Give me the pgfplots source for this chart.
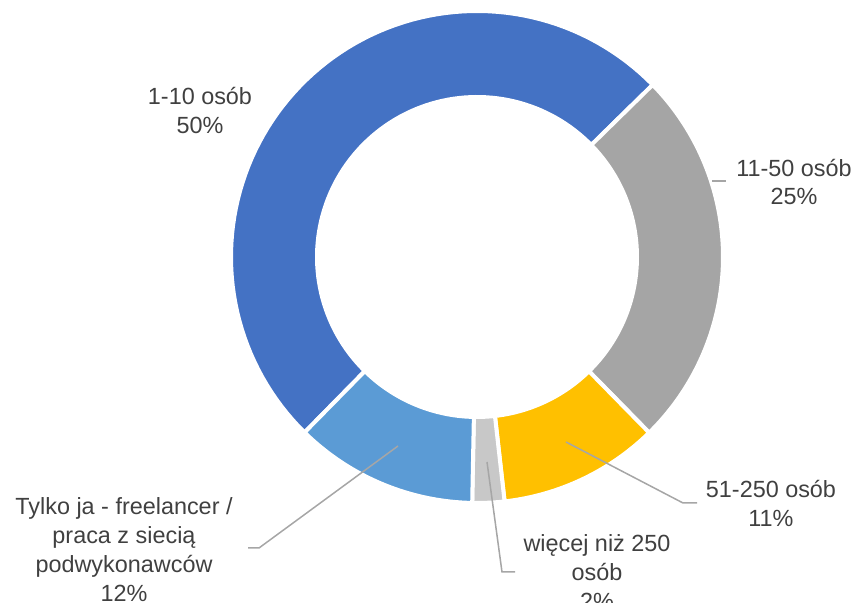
\documentclass[border=0pt]{standalone}
\usepackage{pgfplots}
\pgfplotsset{compat=1.18}
\usepackage{fontspec}
\setmainfont{Liberation Sans}
\definecolor{cBlue}{HTML}{4472C4}
\definecolor{cGray}{HTML}{A5A5A5}
\definecolor{cYellow}{HTML}{FFC000}
\definecolor{cLGray}{HTML}{C8C8C8}
\definecolor{cLBlue}{HTML}{5B9BD5}
\definecolor{txt}{HTML}{404040}
\definecolor{lead}{HTML}{A6A6A6}
% values (percent), clockwise order
\def\vA{50.3}  % 1-10 osob
\def\vB{25.0}  % 11-50 osob
\def\vC{10.55} % 51-250 osob
\def\vD{2.1}   % wiecej niz 250 osob
\def\vE{12.05} % Tylko ja
\def\startang{224.5}
\newcommand{\slice}[3]{%
  \addplot[fill=#3, draw=white, line width=2pt, line join=round, domain=0:#2, samples=90, variable=\t]
    ({477+246*sin(#1+3.6*\t)}, {-257+246*cos(#1+3.6*\t)}) -- (axis cs:477,-257) -- cycle;
}
\tikzset{lbl/.style={font=\fontsize{11.7pt}{14.4pt}\selectfont, text=txt, inner sep=0pt, anchor=base}}
\begin{document}
\begin{tikzpicture}
\useasboundingbox (0,0) rectangle (429pt,301.5pt);
\clip (0,0) rectangle (429pt,301.5pt);
\begin{axis}[at={(0,0)}, anchor=south west, scale only axis, width=429pt, height=301.5pt,
  xmin=0, xmax=858, ymin=-603, ymax=0, hide axis, clip=false]
\pgfmathsetmacro{\sA}{\startang}
\pgfmathsetmacro{\sB}{\sA+3.6*\vA}
\pgfmathsetmacro{\sC}{\sB+3.6*\vB}
\pgfmathsetmacro{\sD}{\sC+3.6*\vC}
\pgfmathsetmacro{\sE}{\sD+3.6*\vD}
\slice{\sA}{\vA}{cBlue}
\slice{\sB}{\vB}{cGray}
\slice{\sC}{\vC}{cYellow}
\slice{\sD}{\vD}{cLGray}
\slice{\sE}{\vE}{cLBlue}
\addplot[fill=white, draw=none, domain=0:360, samples=180] ({477+162*cos(x)}, {-257+162*sin(x)}) -- cycle;
% leader lines
\addplot[lead, line width=0.75pt] coordinates {(712,-181) (726,-181)};
\addplot[lead, line width=0.75pt] coordinates {(566,-442) (683,-503) (697,-503)};
\addplot[lead, line width=0.75pt] coordinates {(487,-462) (502,-572) (515,-572)};
\addplot[lead, line width=0.75pt] coordinates {(398,-446) (259,-548) (248,-548)};
% labels
\node[lbl] at (axis cs:200,-105) {1-10 osób};
\node[lbl] at (axis cs:200,-133.5) {50\%};
\node[lbl] at (axis cs:794,-176.5) {11-50 osób};
\node[lbl] at (axis cs:794,-205) {25\%};
\node[lbl] at (axis cs:771,-498) {51-250 osób};
\node[lbl] at (axis cs:771,-527) {11\%};
\node[lbl] at (axis cs:597,-552) {więcej niż 250};
\node[lbl] at (axis cs:597,-581) {osób};
\node[lbl] at (axis cs:597,-610) {2\%};
\node[lbl] at (axis cs:124,-515) {Tylko ja - freelancer /};
\node[lbl] at (axis cs:124,-544) {praca z siecią};
\node[lbl] at (axis cs:124,-573) {podwykonawców};
\node[lbl] at (axis cs:124,-602) {12\%};
\end{axis}
\end{tikzpicture}
\end{document}
